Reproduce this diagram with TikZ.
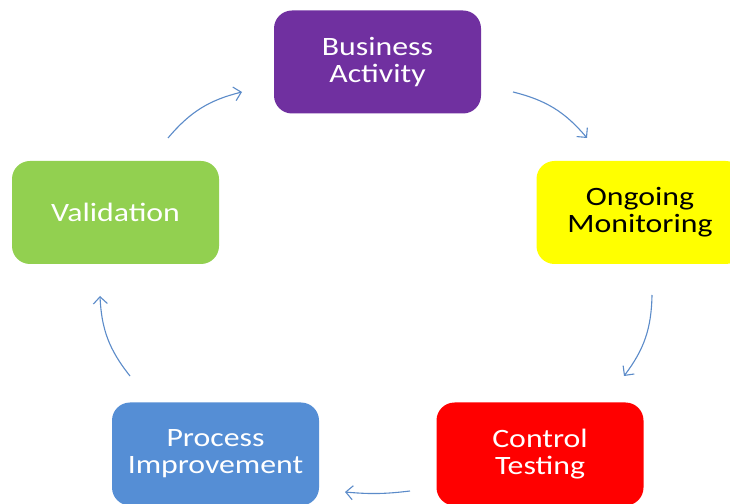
\documentclass[tikz,border=0pt]{standalone}
\usepackage{fontspec}
\newfontfamily\boxfont[FakeStretch=1.2]{Carlito}
\usetikzlibrary{arrows.meta}
\definecolor{cpurple}{HTML}{7030A0}
\definecolor{cyellow}{HTML}{FFFF00}
\definecolor{cgreen}{HTML}{92D050}
\definecolor{cblue}{HTML}{558ED5}
\definecolor{cred}{HTML}{FF0000}
\definecolor{carrow}{HTML}{5B8BC9}
\tikzset{
  stagebox/.style={rectangle, rounded corners=18pt, minimum width=207pt, minimum height=103pt,
    inner sep=0pt, align=center, text=white, font=\boxfont\fontsize{26.5}{27}\selectfont},
  cyclearrow/.style={draw=carrow, line width=1.1pt, -{Straight Barb[length=7pt,width=14pt,line width=1.1pt]}, bend left=18}
}
\begin{document}
\begin{tikzpicture}[x=1pt,y=1pt]
\useasboundingbox (0,0) rectangle (730,503);
\clip (0,0) rectangle (730,503);
\fill[white] (0,0) rectangle (730,503);
\node[stagebox, fill=cpurple] (business) at (377.5,441) {Business\\Activity};
\node[stagebox, fill=cyellow, text=black] (ongoing) at (640,290.5) {Ongoing\\Monitoring};
\node[stagebox, fill=cgreen] (validation) at (115.5,290.5) {Validation};
\node[stagebox, fill=cblue] (process) at (215.5,49) {Process\\Improvement};
\node[stagebox, fill=cred] (control) at (540,49) {Control\\Testing};
\coordinate (a1s) at (168,365); \coordinate (a1e) at (242,411);
\coordinate (a2s) at (513,411); \coordinate (a2e) at (587,365);
\coordinate (a3s) at (652,208); \coordinate (a3e) at (624,127);
\coordinate (a4s) at (410,12);  \coordinate (a4e) at (345,11);
\coordinate (a5s) at (130,127); \coordinate (a5e) at (100,207);
\draw[cyclearrow] (a1s) to (a1e);
\draw[cyclearrow] (a2s) to (a2e);
\draw[cyclearrow] (a3s) to (a3e);
\draw[cyclearrow, bend left=6] (a4s) to (a4e);
\draw[cyclearrow] (a5s) to (a5e);
\end{tikzpicture}
\end{document}
